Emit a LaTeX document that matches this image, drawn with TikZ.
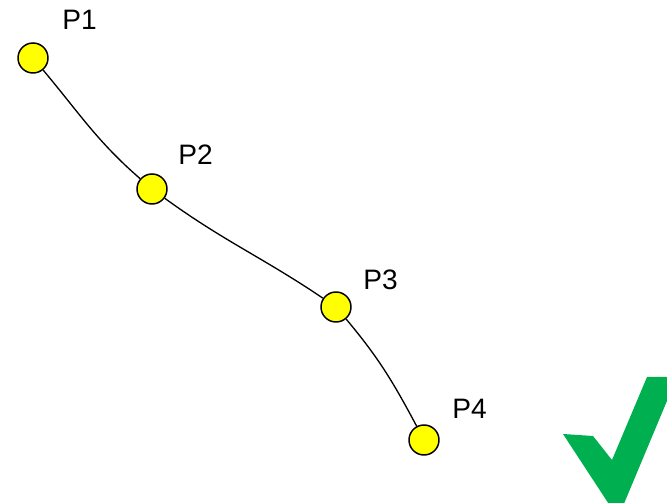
\documentclass[tikz,border=0pt]{standalone}
\usepackage{fontspec}
\setmainfont{Liberation Sans}
\definecolor{ptyellow}{HTML}{FFFF00}
\definecolor{okgreen}{HTML}{00B050}
\tikzset{
  pt/.style={draw,circle,fill=ptyellow,line width=0.85pt,minimum size=0.6cm,inner sep=0pt},
  ptlabel/.style={anchor=base west,inner sep=0pt,font=\fontsize{16}{19}\selectfont}
}

\begin{document}
\begin{tikzpicture}[x=0.02cm,y=-0.02cm]
        \useasboundingbox (0,0) rectangle (667,503);
        \node[pt] (p1) at (33,58) {};
        \node[pt] (p2) at (152,189) {};
        \node[pt] (p3) at (336,307) {};
        \node[pt] (p4) at (424,440) {};
        \node[ptlabel] (l1) at (62,30) {P1};
        \node[ptlabel] (l2) at (178,165) {P2};
        \node[ptlabel] (l3) at (363,290) {P3};
        \node[ptlabel] (l4) at (452,419) {P4};
        \draw[line width=0.75pt] (p1) to[out=-50,in=139] (p2);
        \draw[line width=0.75pt] (p2) to[out=-36,in=146] (p3);
        \draw[line width=0.75pt] (p3) to[out=-50,in=118] (p4);
        % tick, cut off by the page edge
        \begin{scope}
          \clip (0,0) rectangle (667,503);
          \fill[okgreen] (563,434) -- (593,436) -- (612,460) -- (647,377)
            -- (677,377) -- (618,518) -- cycle;
        \end{scope}
      \end{tikzpicture}
\end{document}
